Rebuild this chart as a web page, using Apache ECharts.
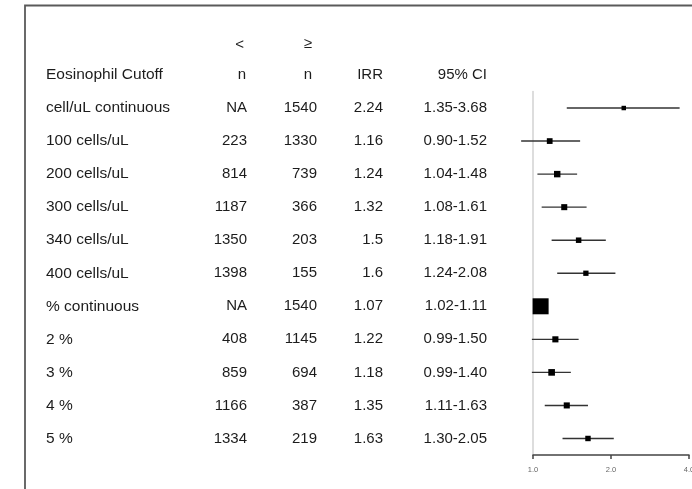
<!DOCTYPE html>
<html>
<head>
<meta charset="utf-8">
<script src="https://cdn.jsdelivr.net/npm/echarts@6/dist/echarts.min.js"></script>
<style>
  html, body { margin: 0; padding: 0; background: #fff; }
  #chart { width: 692px; height: 489px; }
</style>
</head>
<body>
<div id="chart"></div>
<script>
// Eosinophil cutoffs and their incidence rate ratios
var cutoffs = ['cell/uL continuous', '100 cells/uL', '200 cells/uL', '300 cells/uL',
  '340 cells/uL', '400 cells/uL', '% continuous', '2 %', '3 %', '4 %', '5 %'];
var nBelow = ['NA', '223', '814', '1187', '1350', '1398', 'NA', '408', '859', '1166', '1334'];
var nAbove = [1540, 1330, 739, 366, 203, 155, 1540, 1145, 694, 387, 219];
var irr = [2.24, 1.16, 1.24, 1.32, 1.5, 1.6, 1.07, 1.22, 1.18, 1.35, 1.63];
var ciLow = [1.35, 0.90, 1.04, 1.08, 1.18, 1.24, 1.02, 0.99, 0.99, 1.11, 1.30];
var ciHigh = [3.68, 1.52, 1.48, 1.61, 1.91, 2.08, 1.11, 1.50, 1.40, 1.63, 2.05];
var axisTicks = [1, 2, 4];

var FONT = '"Liberation Sans", Arial, Helvetica, sans-serif';
var FS = 15;
var FS_LABEL = 15.5;
var TXT = '#1c1c1c';

// Box size grows with precision (inverse of CI width)
var widths = ciHigh.map(function (h, i) { return h - ciLow[i]; });
var minW = Math.min.apply(null, widths);
var boxSize = widths.map(function (w) { return 4 + 12 * (minW / w); });

// Column right edges of the table
var colRight = { below: 247, above: 317, irr: 383, ci: 487 };
var labelLeft = 46;
var plotLeft = 533;

var chart = echarts.init(document.getElementById('chart'), null, { renderer: 'canvas' });

function headerText(txt, x, y, align, size) {
  return {
    type: 'text', x: x, y: y, silent: true,
    style: {
      text: txt, fill: TXT, font: (size || FS) + 'px ' + FONT,
      textAlign: align, textVerticalAlign: 'middle'
    }
  };
}

function cell(width, align, size) {
  return {
    width: width, align: align, fontSize: size || FS, fontFamily: FONT,
    color: TXT, lineHeight: 18, verticalAlign: 'middle'
  };
}

var option = {
  animation: false,
  backgroundColor: '#fff',
  grid: {
    left: plotLeft, right: 3, top: 91.5, bottom: 34,
    containLabel: false, outerBoundsMode: 'none'
  },
  xAxis: {
    type: 'log', logBase: 2, min: 1, max: 4,
    axisLine: { show: true, lineStyle: { color: '#444', width: 1.5 } },
    axisTick: { show: true, length: 4, lineStyle: { color: '#444', width: 1.5 } },
    splitLine: { show: false },
    axisLabel: {
      color: '#666', fontSize: 7.5, fontFamily: FONT, margin: 11,
      formatter: function (v) { return axisTicks.indexOf(Math.round(v)) >= 0 ? Number(v).toFixed(1) : ''; }
    }
  },
  yAxis: {
    type: 'category', inverse: true, data: cutoffs,
    axisLine: { show: true, lineStyle: { color: '#d2d2d2', width: 1.5 } },
    axisTick: { show: false },
    splitLine: { show: false },
    axisLabel: {
      margin: plotLeft - colRight.ci,
      formatter: function (v, i) {
        return '{a|' + v + '}{b|' + nBelow[i] + '}{c|' + nAbove[i] + '}{d|' +
          String(irr[i]) + '}{e|' + ciLow[i].toFixed(2) + '-' + ciHigh[i].toFixed(2) + '}';
      },
      rich: {
        a: cell(200 - labelLeft, 'left', FS_LABEL),
        b: cell(colRight.below - 200, 'right'),
        c: cell(colRight.above - colRight.below, 'right'),
        d: cell(colRight.irr - colRight.above, 'right'),
        e: cell(colRight.ci - colRight.irr, 'right')
      }
    }
  },
  graphic: [
    {
      type: 'rect', silent: true, z: -1,
      shape: { x: 25, y: 5.5, width: 900, height: 700 },
      style: { fill: 'none', stroke: '#5a5a5a', lineWidth: 1.8 }
    },
    headerText('<', colRight.below - 3, 45, 'right'),
    headerText('\u2265', colRight.above - 5, 44, 'right'),
    headerText('Eosinophil Cutoff', labelLeft, 75, 'left', FS_LABEL),
    headerText('n', colRight.below - 1, 75, 'right'),
    headerText('n', colRight.above - 5, 75, 'right'),
    headerText('IRR', colRight.irr, 75, 'right'),
    headerText('95% CI', colRight.ci, 75, 'right')
  ],
  series: [
    {
      type: 'custom',
      clip: false,
      data: cutoffs.map(function (c, i) { return [ciLow[i], ciHigh[i], i]; }),
      encode: { x: [0, 1], y: 2 },
      renderItem: function (params, api) {
        var a = api.coord([api.value(0), api.value(2)]);
        var b = api.coord([api.value(1), api.value(2)]);
        return {
          type: 'line',
          shape: { x1: a[0], y1: a[1], x2: b[0], y2: b[1] },
          style: { stroke: '#333', lineWidth: 1.4 }
        };
      },
      silent: true
    },
    {
      type: 'scatter',
      symbol: 'rect',
      data: cutoffs.map(function (c, i) { return [irr[i], i]; }),
      symbolSize: function (v, p) { return boxSize[p.dataIndex]; },
      itemStyle: { color: '#000', opacity: 1 },
      silent: true,
      z: 5
    }
  ]
};

chart.setOption(option);
</script>
</body>
</html>
